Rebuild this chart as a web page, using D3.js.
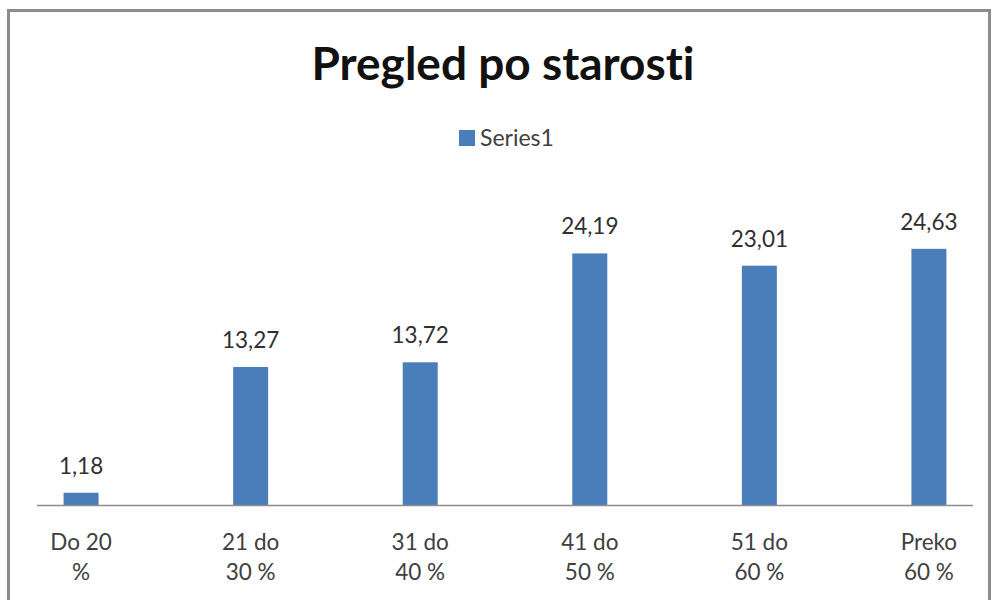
<!DOCTYPE html>
<html>
<head>
<meta charset="utf-8">
<script src="https://cdn.jsdelivr.net/npm/d3@7"></script>
<style>
  body { margin: 0; background: #fff; }
  text { font-family: Lato, "Open Sans", sans-serif; font-variant-ligatures: none; }
</style>
</head>
<body>
<script>
(function () {
    'use strict';

    const width = 992;
    const height = 600;

    // chart data
    const categories = [["Do 20", "%"], ["21 do", "30 %"], ["31 do", "40 %"], ["41 do", "50 %"], ["51 do", "60 %"], ["Preko", "60 %"]];
    const values = [1.18, 13.27, 13.72, 24.19, 23.01, 24.63];
    const seriesName = "Series1";
    const title = "Pregled po starosti";

    const svg = d3.select("body")
        .append("svg")
        .attr("width", width)
        .attr("height", height);

    // outer frame
    svg.append("rect")
        .attr("x", 8.5).attr("y", 10.5)
        .attr("width", 981).attr("height", 600)
        .attr("fill", "none")
        .attr("stroke", "#8c8c8c")
        .attr("stroke-width", 3);

    svg.append("text")
        .attr("x", 503).attr("y", 80)
        .attr("text-anchor", "middle")
        .attr("font-size", 46)
        .attr("font-weight", "bold")
        .attr("fill", "#111")
        .text(title);

    // legend
    svg.append("rect")
        .attr("x", 459).attr("y", 130)
        .attr("width", 16).attr("height", 16)
        .attr("fill", "#4a7ebb");
    svg.append("text")
        .attr("x", 480).attr("y", 146)
        .attr("font-size", 23)
        .attr("fill", "#404040")
        .text(seriesName);

    const x = d3.scalePoint()
        .domain(d3.range(categories.length))
        .range([37, 973])
        .padding(0.26);

    const y = d3.scaleLinear()
        .domain([0, 30])
        .range([505, 193]);

    const barW = 35;

    svg.selectAll(".bar")
        .data(values)
        .enter().append("rect")
        .attr("class", "bar")
        .attr("x", (d, i) => x(i) - barW / 2)
        .attr("y", d => y(d))
        .attr("width", barW)
        .attr("height", d => y(0) - y(d))
        .attr("fill", "#4a7ebb");

    svg.selectAll(".label")
        .data(values)
        .enter().append("text")
        .attr("class", "label")
        .attr("x", (d, i) => x(i))
        .attr("y", d => y(d) - 19)
        .attr("text-anchor", "middle")
        .attr("font-size", 22.5)
        .attr("fill", "#303030")
        .text(d => d.toFixed(2).replace(".", ","));

    // axis line
    svg.append("line")
        .attr("x1", 37).attr("x2", 973)
        .attr("y1", y(0) + 0.5).attr("y2", y(0) + 0.5)
        .attr("stroke", "#8c8c8c")
        .attr("stroke-width", 1.5);

    const cat = svg.selectAll(".cat")
        .data(categories)
        .enter().append("text")
        .attr("class", "cat")
        .attr("text-anchor", "middle")
        .attr("font-size", 22.5)
        .attr("fill", "#404040");
    cat.append("tspan")
        .attr("x", (d, i) => x(i))
        .attr("y", 550)
        .text(d => d[0]);
    cat.append("tspan")
        .attr("x", (d, i) => x(i))
        .attr("y", 580)
        .text(d => d[1]);
}());
</script>
</body>
</html>
